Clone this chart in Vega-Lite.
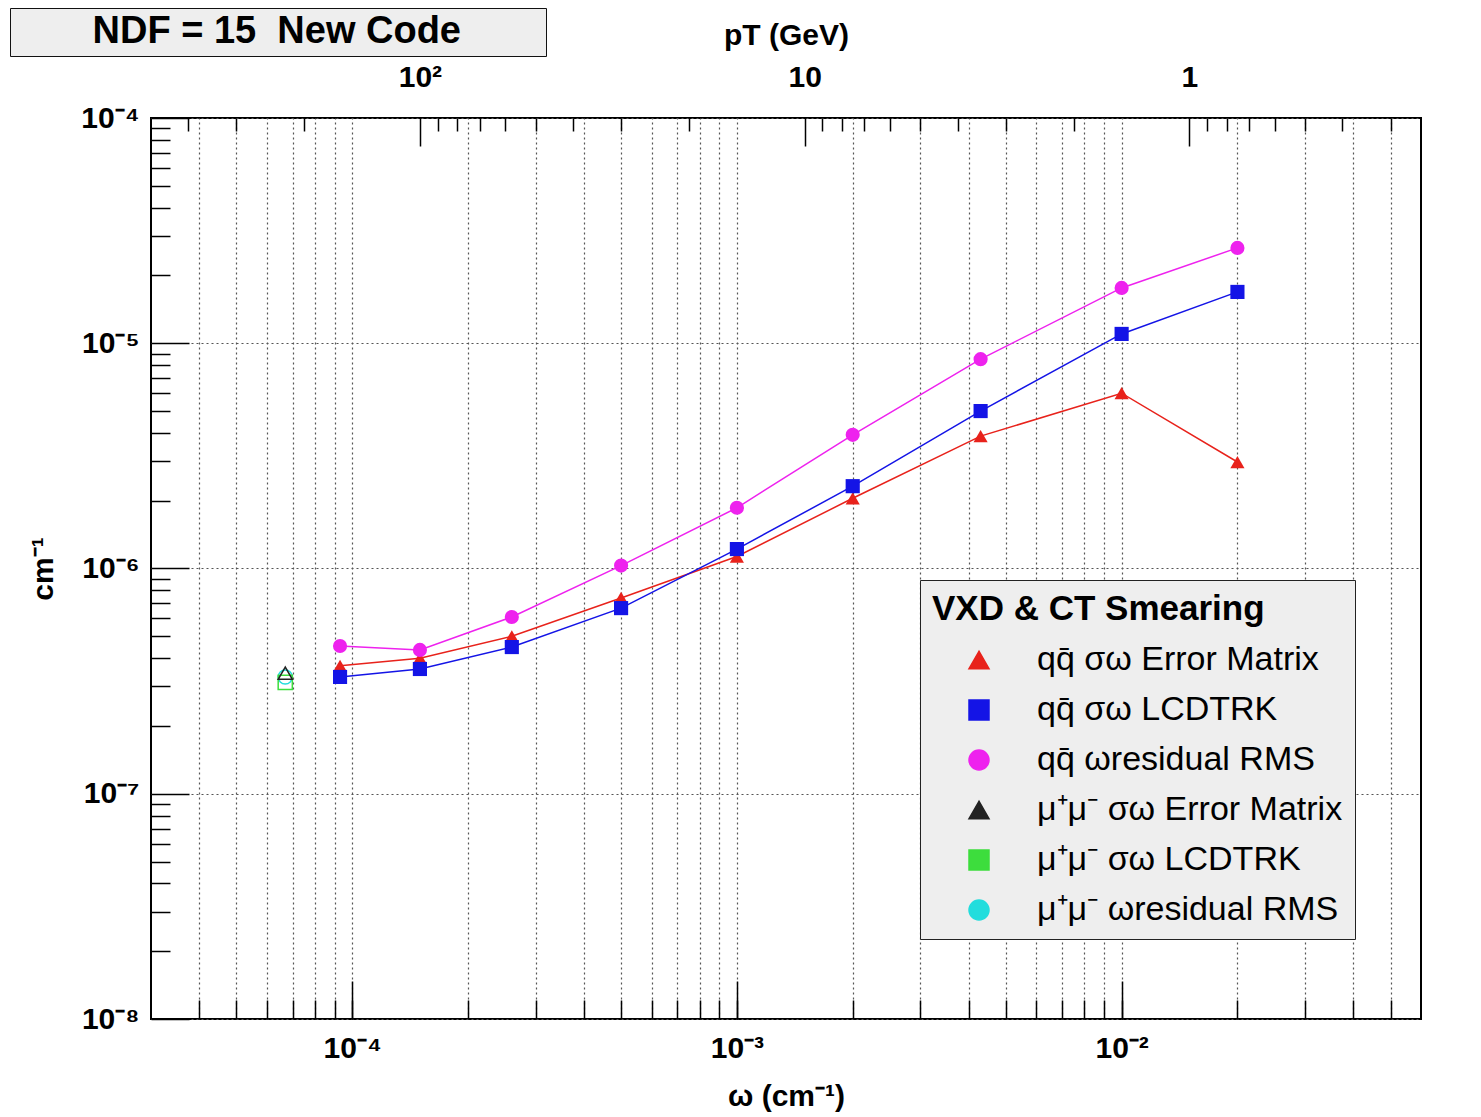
{
  "$schema": "https://vega.github.io/schema/vega-lite/v6.json",
  "autosize": {"type": "none"},
  "width": 1270,
  "height": 901,
  "padding": {"left": 151, "top": 118, "right": 60, "bottom": 98},
  "background": "white",
  "datasets": {
    "pts": [
      {"s": "a", "w": 9.3e-5, "v": 3.7e-7},
      {"s": "a", "w": 1.5e-4, "v": 4.0e-7},
      {"s": "a", "w": 2.6e-4, "v": 5.0e-7},
      {"s": "a", "w": 5.0e-4, "v": 7.4e-7},
      {"s": "a", "w": 1.0e-3, "v": 1.13e-6},
      {"s": "a", "w": 2.0e-3, "v": 2.05e-6},
      {"s": "a", "w": 4.3e-3, "v": 3.87e-6},
      {"s": "a", "w": 1.0e-2, "v": 6.0e-6},
      {"s": "a", "w": 2.0e-2, "v": 2.97e-6},
      {"s": "b", "w": 9.3e-5, "v": 3.3e-7},
      {"s": "b", "w": 1.5e-4, "v": 3.58e-7},
      {"s": "b", "w": 2.6e-4, "v": 4.48e-7},
      {"s": "b", "w": 5.0e-4, "v": 6.67e-7},
      {"s": "b", "w": 1.0e-3, "v": 1.22e-6},
      {"s": "b", "w": 2.0e-3, "v": 2.32e-6},
      {"s": "b", "w": 4.3e-3, "v": 5.0e-6},
      {"s": "b", "w": 1.0e-2, "v": 1.1e-5},
      {"s": "b", "w": 2.0e-2, "v": 1.69e-5},
      {"s": "c", "w": 9.3e-5, "v": 4.53e-7},
      {"s": "c", "w": 1.5e-4, "v": 4.35e-7},
      {"s": "c", "w": 2.6e-4, "v": 6.09e-7},
      {"s": "c", "w": 5.0e-4, "v": 1.03e-6},
      {"s": "c", "w": 1.0e-3, "v": 1.86e-6},
      {"s": "c", "w": 2.0e-3, "v": 3.92e-6},
      {"s": "c", "w": 4.3e-3, "v": 8.5e-6},
      {"s": "c", "w": 1.0e-2, "v": 1.76e-5},
      {"s": "c", "w": 2.0e-2, "v": 2.65e-5},
      {"s": "f", "w": 6.7e-5, "v": 3.3e-7},
      {"s": "e", "w": 6.7e-5, "v": 3.12e-7},
      {"s": "d", "w": 6.7e-5, "v": 3.43e-7}
    ],
    "pt": [{"pT": 1}, {"pT": 10}, {"pT": 100}],
    "ttl": [{"label": "NDF = 15\u00a0\u00a0New Code"}]
  },
  "layer": [
    {
      "data": {"name": "pts"},
      "encoding": {
        "x": {
          "field": "w", "type": "quantitative",
          "scale": {"type": "log", "domain": [3e-5, 0.06], "nice": false},
          "axis": {
            "orient": "bottom",
            "values": [0.0001, 0.001, 0.01],
            "labelExpr": "datum.value < 0.0005 ? '10⁻⁴' : datum.value < 0.005 ? '10⁻³' : '10⁻²'",
            "tickSize": -38, "tickWidth": 1.5, "tickColor": "black",
            "labelPadding": 52, "labelFontSize": 30, "labelFlush": false, "labelOverlap": false,
            "title": "ω (cm⁻¹)", "titleFontSize": 30, "titlePadding": 18,
            "grid": false, "domain": false
          }
        },
        "y": {
          "field": "v", "type": "quantitative",
          "scale": {"type": "log", "domain": [1e-8, 1e-4], "nice": false},
          "axis": {
            "orient": "left",
            "values": [1e-8, 1e-7, 1e-6, 1e-5, 1e-4],
            "labelExpr": "datum.value < 0.00000005 ? '10⁻⁸' : datum.value < 0.0000005 ? '10⁻⁷' : datum.value < 0.000005 ? '10⁻⁶' : datum.value < 0.00005 ? '10⁻⁵' : '10⁻⁴'",
            "tickSize": -38, "tickWidth": 1.5, "tickColor": "black",
            "labelPadding": 50, "labelFontSize": 30, "labelFlush": false, "labelOverlap": false,
            "title": "cm⁻¹", "titleFontSize": 30, "titlePadding": 22,
            "grid": true, "gridDash": [2, 3], "gridColor": "#555555", "gridWidth": 1.2,
            "domain": false
          }
        }
      },
      "layer": [
        {
          "transform": [{"filter": {"field": "s", "oneOf": ["a", "b", "c"]}}],
          "mark": {"type": "line", "strokeWidth": 1.5},
          "encoding": {
            "color": {
              "field": "s", "type": "nominal",
              "scale": {"domain": ["a", "b", "c", "d", "e", "f"], "range": ["#e8221b", "#1414e6", "#ee22ee", "#222222", "#3ddd3d", "#22dddd"]},
              "legend": {
                "orient": "none", "legendX": 769, "legendY": 462,
                "title": "VXD & CT Smearing",
                "titleFont": "Liberation Sans", "titleFontSize": 35, "titleFontWeight": "bold", "titleColor": "black", "titlePadding": 16, "titleLimit": 1000,
                "labelFont": "Liberation Sans", "labelFontSize": 34, "labelColor": "black", "labelLimit": 1000, "labelOffset": 41,
                "labelExpr": "{'a': 'qq̄ σω Error Matrix', 'b': 'qq̄ σω LCDTRK', 'c': 'qq̄ ωresidual RMS', 'd': 'μ⁺μ⁻ σω Error Matrix', 'e': 'μ⁺μ⁻ σω LCDTRK', 'f': 'μ⁺μ⁻ ωresidual RMS'}[datum.value]",
                "fillColor": "#eeeeee", "strokeColor": "#222222", "padding": 12, "rowPadding": 16,
                "symbolOffset": 30,
                "encoding": {
                  "symbols": {
                    "shape": {"value": {"expr": "{'a': 'M-4.05,0H4.05M0,-0.75L0.8,0.6H-0.8Z', 'b': 'M-4.05,0H4.05M-0.65,-0.65H0.65V0.65H-0.65Z', 'c': 'M-4.05,0H4.05M0.65,0A0.65,0.65,0,1,1,-0.65,0A0.65,0.65,0,1,1,0.65,0Z', 'd': 'M-4.05,0H-0.44M0.44,0H4.05M0,-0.75L0.8,0.6H-0.8Z', 'e': 'M-4.05,0H-0.65M0.65,0H4.05M-0.65,-0.65H0.65V0.65H-0.65Z', 'f': 'M-4.05,0H-0.65M0.65,0H4.05M0.65,0A0.65,0.65,0,1,1,-0.65,0A0.65,0.65,0,1,1,0.65,0Z'}[datum.value]"}},
                    "size": {"value": 400},
                    "strokeWidth": {"value": 1.5},
                    "stroke": {"value": {"expr": "scale('color', datum.value)"}},
                    "fill": {"value": {"expr": "datum.value == 'a' || datum.value == 'b' || datum.value == 'c' ? scale('color', datum.value) : 'transparent'"}},
                    "opacity": {"value": 1}
                  }
                }
              }
            }
          }
        },
        {
          "transform": [{"filter": {"field": "s", "oneOf": ["a", "b", "c"]}}],
          "mark": {"type": "point", "filled": true, "size": 200, "opacity": 1},
          "encoding": {
            "color": {"field": "s", "type": "nominal", "legend": null},
            "shape": {
              "field": "s", "type": "nominal",
              "scale": {"domain": ["a", "b", "c", "d", "e", "f"], "range": ["triangle-up", "square", "circle", "triangle-up", "square", "circle"]},
              "legend": null
            }
          }
        },
        {
          "transform": [{"filter": {"field": "s", "oneOf": ["d", "e", "f"]}}],
          "mark": {"type": "point", "filled": false, "size": 200, "strokeWidth": 1.5, "opacity": 1},
          "encoding": {
            "color": {"field": "s", "type": "nominal", "legend": null},
            "shape": {"field": "s", "type": "nominal", "legend": null}
          }
        }
      ]
    },
    {
      "data": {"name": "ttl"},
      "mark": {"type": "point", "opacity": 0},
      "encoding": {
        "strokeDash": {
          "field": "label", "type": "nominal",
          "legend": {
            "orient": "none", "legendX": -141, "legendY": -110,
            "title": null,
            "fillColor": "#eeeeee", "strokeColor": "#111111", "padding": 5,
            "labelFont": "Liberation Sans", "labelFontSize": 38, "labelFontWeight": "bold", "labelColor": "black", "labelLimit": 1000,
            "labelAlign": "right", "labelOffset": -98,
            "symbolType": "square", "symbolSize": 4, "symbolStrokeWidth": 0,
            "symbolFillColor": "#eeeeee", "symbolStrokeColor": "#eeeeee",
            "symbolOffset": 506
          }
        }
      }
    },
    {
      "data": {"name": "pts"},
      "mark": {"type": "point", "opacity": 0},
      "encoding": {
        "x": {
          "field": "w", "type": "quantitative",
          "scale": {"type": "log", "domain": [3e-5, 0.06], "nice": false},
          "axis": {
            "orient": "bottom",
            "values": [4e-5, 5e-5, 6e-5, 7e-5, 8e-5, 9e-5, 1e-4, 2e-4, 3e-4, 4e-4, 5e-4, 6e-4, 7e-4, 8e-4, 9e-4, 1e-3, 2e-3, 3e-3, 4e-3, 5e-3, 6e-3, 7e-3, 8e-3, 9e-3, 1e-2, 2e-2, 3e-2, 4e-2, 5e-2],
            "labels": false, "title": null,
            "tickSize": -19, "tickWidth": 1.5, "tickColor": "black",
            "grid": true, "gridDash": [2, 3], "gridColor": "#555555", "gridWidth": 1.2,
            "domain": false
          }
        }
      }
    },
    {
      "data": {"name": "pts"},
      "mark": {"type": "point", "opacity": 0},
      "encoding": {
        "y": {
          "field": "v", "type": "quantitative",
          "scale": {"type": "log", "domain": [1e-8, 1e-4], "nice": false},
          "axis": {
            "orient": "left",
            "values": [2e-8, 3e-8, 4e-8, 5e-8, 6e-8, 7e-8, 8e-8, 9e-8, 2e-7, 3e-7, 4e-7, 5e-7, 6e-7, 7e-7, 8e-7, 9e-7, 2e-6, 3e-6, 4e-6, 5e-6, 6e-6, 7e-6, 8e-6, 9e-6, 2e-5, 3e-5, 4e-5, 5e-5, 6e-5, 7e-5, 8e-5, 9e-5],
            "labels": false, "title": null,
            "tickSize": -19, "tickWidth": 1.5, "tickColor": "black",
            "grid": false, "domain": false
          }
        }
      }
    },
    {
      "data": {"name": "pt"},
      "mark": {"type": "point", "opacity": 0},
      "encoding": {
        "x": {
          "field": "pT", "type": "quantitative",
          "scale": {"type": "log", "domain": [0.25, 500], "reverse": true, "nice": false},
          "axis": {
            "orient": "top",
            "values": [1, 10, 100],
            "labelExpr": "datum.value >= 50 ? '10²' : datum.value >= 5 ? '10' : '1'",
            "tickSize": -28, "tickWidth": 1.5, "tickColor": "black",
            "labelPadding": 54, "labelFontSize": 30, "labelFlush": false, "labelOverlap": false,
            "title": "pT (GeV)", "titleFontSize": 30, "titlePadding": 12,
            "grid": false, "domain": false
          }
        }
      }
    },
    {
      "data": {"name": "pt"},
      "mark": {"type": "point", "opacity": 0},
      "encoding": {
        "x": {
          "field": "pT", "type": "quantitative",
          "scale": {"type": "log", "domain": [0.25, 500], "reverse": true, "nice": false},
          "axis": {
            "orient": "top",
            "values": [0.3, 0.4, 0.5, 0.6, 0.7, 0.8, 0.9, 2, 3, 4, 5, 6, 7, 8, 9, 20, 30, 40, 50, 60, 70, 80, 90, 200, 300, 400],
            "labels": false, "title": null,
            "tickSize": -13, "tickWidth": 1.5, "tickColor": "black",
            "grid": false, "domain": false
          }
        }
      }
    }
  ],
  "resolve": {
    "scale": {"x": "independent", "y": "independent"},
    "axis": {"x": "independent", "y": "independent"}
  },
  "config": {
    "font": "Liberation Sans",
    "view": {"stroke": "black", "strokeWidth": 2},
    "axis": {
      "labelFont": "Liberation Sans", "labelFontWeight": "bold", "labelColor": "black",
      "titleFont": "Liberation Sans", "titleFontWeight": "bold", "titleColor": "black"
    }
  }
}
